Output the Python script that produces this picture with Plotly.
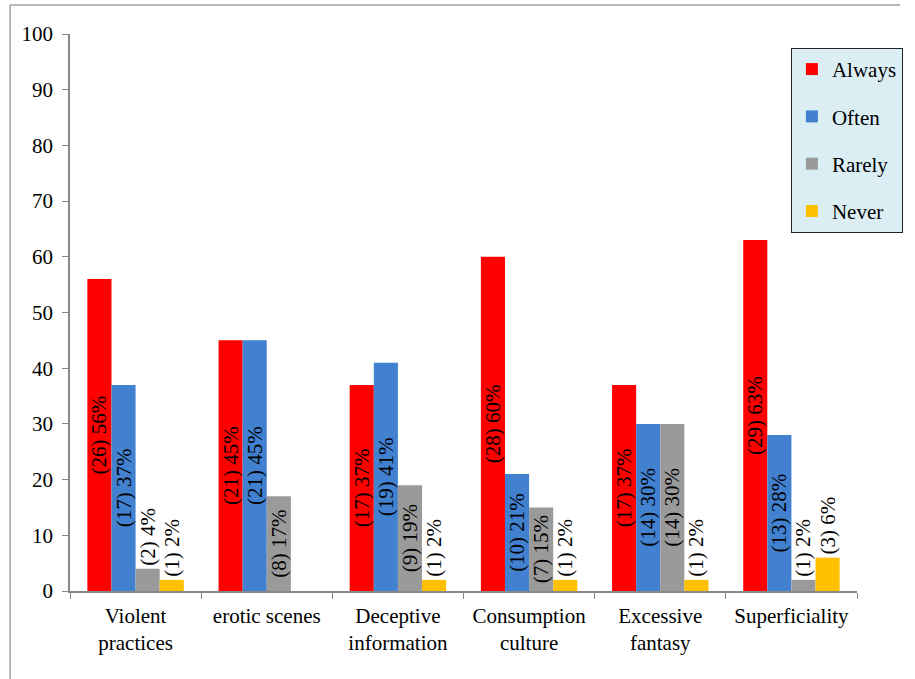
import plotly.graph_objects as go

categories = ["Violent<br>practices", "erotic scenes", "Deceptive<br>information",
              "Consumption<br>culture", "Excessive<br>fantasy", "Superficiality"]
series_names = ["Always", "Often", "Rarely", "Never"]
always = [56, 45, 37, 60, 37, 63]
often = [37, 45, 41, 21, 30, 28]
rarely = [4, 17, 19, 15, 30, 2]
never = [2, 0, 2, 2, 2, 6]
always_n = [26, 21, 17, 28, 17, 29]
often_n = [17, 21, 19, 10, 14, 13]
rarely_n = [2, 8, 9, 7, 14, 1]
never_n = [1, 0, 1, 1, 1, 3]
colors = ["#FF0000", "#4181D0", "#9A9A9A", "#FFC000"]

FONT = "Liberation Serif"
FS = 21

fig = go.Figure()
for name, vals, ns, col in zip(series_names, [always, often, rarely, never],
                                [always_n, often_n, rarely_n, never_n], colors):
    texts = [f"({n}) {v}%" if v > 0 else "" for n, v in zip(ns, vals)]
    positions = ["outside" if v < 10 else "inside" for v in vals]
    fig.add_trace(go.Bar(
        name=name, x=categories, y=vals, text=texts,
        marker=dict(color=col, line=dict(width=0)),
        textposition=positions, textangle=-90, insidetextanchor="middle",
        constraintext="none", cliponaxis=False,
        textfont=dict(family=FONT, size=FS, color="black"),
        insidetextfont=dict(family=FONT, size=FS, color="black"),
        outsidetextfont=dict(family=FONT, size=FS, color="black"),
        legendgroup=name, hoverinfo="skip",
    ))

fig.update_layout(
    width=915, height=679,
    margin=dict(l=70, r=44, t=34, b=88),
    paper_bgcolor="white", plot_bgcolor="white",
    barmode="group", bargap=0.265, bargroupgap=0,
    font=dict(family=FONT, size=FS, color="black"),
    uniformtext=dict(minsize=FS, mode="show"),
    showlegend=True,
    legend=dict(
        x=0.916, y=0.975, xanchor="left", yanchor="top",
        bgcolor="#DBEEF3", bordercolor="#222222", borderwidth=1,
        font=dict(family=FONT, size=FS, color="black"),
        tracegroupgap=17, itemwidth=30,
    ),
    xaxis=dict(
        showline=True, linecolor="#888888", linewidth=1.5,
        ticks="outside", ticklen=6, tickcolor="#888888", tickson="boundaries",
        tickfont=dict(family=FONT, size=FS, color="black"),
        ticklabelstandoff=5,
        showgrid=False, zeroline=False,
    ),
    yaxis=dict(
        range=[0, 100], dtick=10, showline=True, linecolor="#888888", linewidth=1.5,
        ticks="outside", ticklen=6, tickcolor="#888888",
        tickfont=dict(family=FONT, size=FS, color="black"),
        ticklabelstandoff=5,
        showgrid=False, zeroline=False,
    ),
    shapes=[
        dict(type="line", xref="paper", yref="paper",
             x0=(9 - 70) / 801, x1=(915 - 70) / 801,
             y0=(591 - 5) / 557, y1=(591 - 5) / 557,
             line=dict(color="#A0A0A0", width=1.5)),
        dict(type="line", xref="paper", yref="paper",
             x0=(9 - 70) / 801, x1=(9 - 70) / 801,
             y0=(591 - 5) / 557, y1=(591 - 679) / 557,
             line=dict(color="#A0A0A0", width=1.5)),
    ],
)

fig.write_html("out.html")
